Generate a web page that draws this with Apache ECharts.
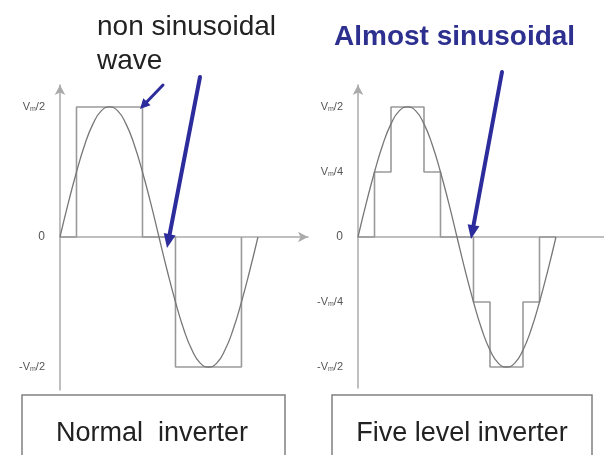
<!DOCTYPE html>
<html>
<head>
<meta charset="utf-8">
<script src="https://cdn.jsdelivr.net/npm/echarts@6/dist/echarts.min.js"></script>
<style>html,body{margin:0;padding:0;background:#fff}#c{width:604px;height:455px}</style>
</head>
<body>
<div id="c"></div>
<script>
// ---- data (phase in degrees, level in units of Vdc/2) ----
const sineX = [0,15,30,45,60,75,90,105,120,135,150,165,180,195,210,225,240,255,270,285,300,315,330,345,360];
const sineY = [0,0.26,0.5,0.71,0.87,0.97,1,0.97,0.87,0.71,0.5,0.26,0,-0.26,-0.5,-0.71,-0.87,-0.97,-1,-0.97,-0.87,-0.71,-0.5,-0.26,0];

const squareX = [0,30,30,150,150,210,210,330,330];
const squareY = [0,0,1,1,0,0,-1,-1,0];

const fiveX = [0,30,30,60,60,120,120,150,150,210,210,240,240,300,300,330,330,360];
const fiveY = [0,0,0.5,0.5,1,1,0.5,0.5,0,0,-0.5,-0.5,-1,-1,-0.5,-0.5,0,0];

const leftTickValues = [1, 0, -1];
const leftTickLabels = ['{v|V}{m|m}{v|/2}', '{z|0}', '{v|-V}{m|m}{v|/2}'];
const rightTickValues = [1, 0.5, 0, -0.5, -1];
const rightTickLabels = ['{v|V}{m|m}{v|/2}', '{v|V}{m|m}{v|/4}', '{z|0}', '{v|-V}{m|m}{v|/4}', '{v|-V}{m|m}{v|/2}'];

const noteLeft1 = 'non sinusoidal';
const noteLeft2 = 'wave';
const noteRight = 'Almost sinusoidal';
const boxLeft = 'Normal  inverter';
const boxRight = 'Five level inverter';

// ---- styling ----
const axisColor = '#aaaaaa';
const sineColor = '#777777';
const waveColor = '#9a9a9a';
const blue = '#2c2c9c';
const font = 'Liberation Sans, Arial, sans-serif';

function zip(xs, ys) { return xs.map((x, i) => [x, ys[i]]); }

const rich = {
  v: { fontSize: 11, color: '#555', fontFamily: font },
  m: { fontSize: 7, color: '#555', fontFamily: font, padding: [5, 0, 0, 0] },
  z: { fontSize: 12, color: '#555', fontFamily: font }
};

function arrow(x1, y1, x2, y2, w, hl, hw) {
  const dx = x2 - x1, dy = y2 - y1, L = Math.hypot(dx, dy);
  const ux = dx / L, uy = dy / L, px = -uy, py = ux;
  const bx = x2 - ux * hl, by = y2 - uy * hl;
  return [
    { type: 'line', shape: { x1, y1, x2: bx, y2: by }, style: { stroke: blue, lineWidth: w, lineCap: 'round' }, z: 100 },
    { type: 'polygon', shape: { points: [[x2, y2], [bx + px * hw, by + py * hw], [bx - px * hw, by - py * hw]] }, style: { fill: blue }, z: 100 }
  ];
}

function makeYAxis(gi, min, max, vals, labels) {
  return {
    gridIndex: gi, type: 'value', min, max,
    splitLine: { show: false },
    axisTick: { show: false },
    axisLine: { show: true, onZero: true, symbol: ['none', 'arrow'], symbolSize: [8, 10], lineStyle: { color: axisColor, width: 1.5 } },
    axisLabel: {
      show: true, customValues: vals, margin: 15,
      formatter: v => { const i = vals.findIndex(t => Math.abs(t - v) < 1e-6); return i >= 0 ? labels[i] : ''; },
      rich
    }
  };
}
function makeXAxis(gi, max, withArrow) {
  return {
    gridIndex: gi, type: 'value', min: 0, max,
    splitLine: { show: false }, axisTick: { show: false }, axisLabel: { show: false },
    axisLine: { show: true, onZero: true, symbol: withArrow ? ['none', 'arrow'] : 'none', symbolSize: [8, 10], lineStyle: { color: axisColor, width: 1.5 } }
  };
}

const chart = echarts.init(document.getElementById('c'), null, { renderer: 'canvas' });
chart.setOption({
  animation: false,
  backgroundColor: '#fff',
  grid: [
    { left: 60, top: 85, width: 248, height: 305 },
    { left: 358, top: 85, width: 246, height: 303 }
  ],
  xAxis: [makeXAxis(0, 451, true), makeXAxis(1, 447.3, false)],
  yAxis: [
    makeYAxis(0, -1.177, 1.169, leftTickValues, leftTickLabels),
    makeYAxis(1, -1.1615, 1.169, rightTickValues, rightTickLabels)
  ],
  series: [
    { type: 'line', xAxisIndex: 0, yAxisIndex: 0, data: zip(squareX, squareY), showSymbol: false, lineStyle: { color: waveColor, width: 1.6 }, z: 2 },
    { type: 'line', xAxisIndex: 0, yAxisIndex: 0, data: zip(sineX, sineY), smooth: true, showSymbol: false, lineStyle: { color: sineColor, width: 1.3 }, z: 3 },
    { type: 'line', xAxisIndex: 1, yAxisIndex: 1, data: zip(fiveX, fiveY), showSymbol: false, lineStyle: { color: waveColor, width: 1.6 }, z: 2 },
    { type: 'line', xAxisIndex: 1, yAxisIndex: 1, data: zip(sineX, sineY), smooth: true, showSymbol: false, lineStyle: { color: sineColor, width: 1.3 }, z: 3 }
  ],
  graphic: [
    { type: 'text', left: 97, top: 13, style: { text: noteLeft1, font: '28px ' + font, fill: '#222' } },
    { type: 'text', left: 97, top: 47, style: { text: noteLeft2, font: '28px ' + font, fill: '#222' } },
    { type: 'text', left: 334, top: 23, style: { text: noteRight, font: 'bold 28px ' + font, fill: '#2e3090' } },
    ...arrow(163, 85, 140, 109, 3, 10, 5),
    ...arrow(200, 77, 167, 248, 4, 14, 6),
    ...arrow(502, 72, 471, 239, 4, 14, 6),
    { type: 'rect', shape: { x: 22, y: 395, width: 263, height: 70 }, style: { fill: '#fff', stroke: '#808080', lineWidth: 1.5 }, z: 50 },
    { type: 'rect', shape: { x: 332, y: 395, width: 260, height: 70 }, style: { fill: '#fff', stroke: '#808080', lineWidth: 1.5 }, z: 50 },
    { type: 'text', x: 152, y: 434, style: { text: boxLeft, font: '27px ' + font, fill: '#222', align: 'center', verticalAlign: 'middle' }, z: 51 },
    { type: 'text', x: 462, y: 434, style: { text: boxRight, font: '27px ' + font, fill: '#222', align: 'center', verticalAlign: 'middle' }, z: 51 }
  ]
});
</script>
</body>
</html>
